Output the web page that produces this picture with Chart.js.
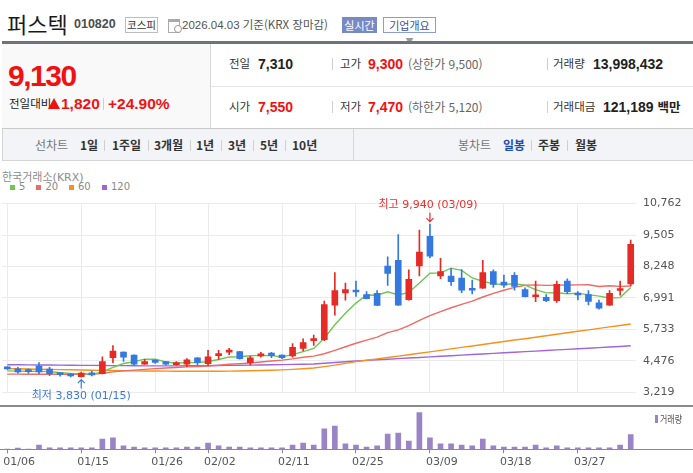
<!DOCTYPE html>
<html lang="ko">
<head>
<meta charset="utf-8">
<title>퍼스텍 010820</title>
<script src="https://cdn.jsdelivr.net/npm/chart.js@4.4.1/dist/chart.umd.min.js"></script>
<style>
  html, body { margin: 0; padding: 0; }
  body { width: 693px; height: 473px; position: relative; overflow: hidden; background: #fff;
         font-family: "Liberation Sans", "Noto Sans CJK KR", sans-serif; color: #333; }
  .t { position: absolute; white-space: nowrap; line-height: 1; }
  .kr { font-family: "Noto Sans CJK KR", sans-serif; }
  .b { font-weight: bold; }
  .red { color: #f21111; }
  .box { position: absolute; }
  .sep { position: absolute; width: 1px; background: #cfcfcf; }
  canvas { position: absolute; left: 0; }
</style>
</head>
<body>
<!-- title row -->
<div class="t kr" style="left:7px;top:11.5px;font-size:22px;color:#1a1a1a">퍼스텍</div>
<div class="t b" style="left:74px;top:18px;font-size:12.5px;color:#4d4d4d">010820</div>
<div class="box kr" style="left:125px;top:17px;width:31px;height:14px;border:1px solid #bdbdbd;font-size:10.5px;line-height:14px;text-align:center;color:#333">코스피</div>
<div class="box" style="left:168px;top:19px;width:10px;height:10px;border:1px solid #aaa;border-top:3px solid #aaa"></div>
<div class="box" style="left:174px;top:25px;width:6px;height:6px;border:1px solid #999;border-radius:50%;background:#fff"></div>
<div class="t" style="left:182px;top:18.7px;font-size:11.5px;color:#555">2026.04.03 <span class="kr">기준(KRX 장마감)</span></div>
<div class="box kr" style="left:342px;top:17px;width:35px;height:16px;background:#7889c6;color:#fff;font-size:11px;line-height:16px;text-align:center">실시간</div>
<div class="box kr" style="left:383px;top:17px;width:51px;height:14px;border:1px solid #8c9bd3;color:#3d4f9a;font-size:11px;line-height:14px;text-align:center">기업개요 <span style="color:#999;font-size:8px">▼</span></div>
<div class="box" style="left:2px;top:41px;width:691px;height:3px;background:#6f727a"></div>

<!-- price summary -->
<div class="box" style="left:2px;top:44px;width:208px;height:84px;background:#f9f9f9;border-right:1px solid #d6d6d6"></div>
<div class="t b red" style="left:8px;top:60.5px;font-size:30px;letter-spacing:-1.5px">9,130</div>
<div class="t kr" style="left:9px;top:97.7px;font-size:11.5px;color:#222">전일대비</div>
<div class="box" style="left:48px;top:98px;width:0;height:0;border-left:6px solid transparent;border-right:6px solid transparent;border-bottom:11px solid #f21111"></div>
<div class="t b red" style="left:61px;top:96px;font-size:15.5px">1,820</div>
<div class="sep" style="left:103px;top:98px;height:12px"></div>
<div class="t b red" style="left:108px;top:96px;font-size:15.5px">+24.90%</div>

<div class="t kr" style="left:229px;top:58.2px;font-size:11.5px">전일</div>
<div class="t b" style="left:258px;top:57px;font-size:14px;color:#222">7,310</div>
<div class="sep" style="left:332px;top:58px;height:12px"></div>
<div class="t kr" style="left:340px;top:58.2px;font-size:11.5px">고가</div>
<div class="t b red" style="left:368px;top:57px;font-size:14px">9,300</div>
<div class="t kr" style="left:408px;top:58px;font-size:12px;color:#666">(상한가 9,500)</div>
<div class="sep" style="left:547px;top:58px;height:12px"></div>
<div class="t kr" style="left:553px;top:58.2px;font-size:11.5px">거래량</div>
<div class="t b" style="left:593px;top:57px;font-size:14px;color:#222">13,998,432</div>

<div class="box" style="left:211px;top:86px;width:482px;height:1px;background:#e6e6e6"></div>

<div class="t kr" style="left:229px;top:101.2px;font-size:11.5px">시가</div>
<div class="t b red" style="left:258px;top:100px;font-size:14px">7,550</div>
<div class="sep" style="left:332px;top:101px;height:12px"></div>
<div class="t kr" style="left:340px;top:101.2px;font-size:11.5px">저가</div>
<div class="t b red" style="left:368px;top:100px;font-size:14px">7,470</div>
<div class="t kr" style="left:408px;top:101px;font-size:12px;color:#666">(하한가 5,120)</div>
<div class="sep" style="left:547px;top:101px;height:12px"></div>
<div class="t kr" style="left:553px;top:101.2px;font-size:11.5px">거래대금</div>
<div class="t b" style="left:603px;top:100px;font-size:14px;color:#222">121,189 <span class="kr" style="font-size:12.5px">백만</span></div>

<div class="box" style="left:2px;top:128px;width:691px;height:1px;background:#c9c9c9"></div>

<!-- period nav -->
<div class="box" style="left:2px;top:129px;width:690px;height:31px;background:#f3f4f7;border-bottom:1px solid #d4d4d4;border-left:1px solid #d4d4d4"></div>
<div class="box" style="left:353px;top:129px;width:1px;height:31px;background:#d8d8d8"></div>
<div class="t kr" style="left:35px;top:139px;font-size:12px;color:#777">선차트</div>
<div class="t kr b" style="left:80px;top:139px;font-size:12px">1일</div>
<div class="sep" style="left:104px;top:140px;height:11px"></div>
<div class="t kr b" style="left:112px;top:139px;font-size:12px">1주일</div>
<div class="sep" style="left:148px;top:140px;height:11px"></div>
<div class="t kr b" style="left:154px;top:139px;font-size:12px">3개월</div>
<div class="sep" style="left:190px;top:140px;height:11px"></div>
<div class="t kr b" style="left:196px;top:139px;font-size:12px">1년</div>
<div class="sep" style="left:221px;top:140px;height:11px"></div>
<div class="t kr b" style="left:228px;top:139px;font-size:12px">3년</div>
<div class="sep" style="left:253px;top:140px;height:11px"></div>
<div class="t kr b" style="left:260px;top:139px;font-size:12px">5년</div>
<div class="sep" style="left:285px;top:140px;height:11px"></div>
<div class="t kr b" style="left:292px;top:139px;font-size:12px">10년</div>
<div class="t kr" style="left:458px;top:139px;font-size:12px;color:#777">봉차트</div>
<div class="t kr b" style="left:503px;top:139px;font-size:12px;color:#1d4ea8">일봉</div>
<div class="sep" style="left:531px;top:140px;height:11px"></div>
<div class="t kr b" style="left:538px;top:139px;font-size:12px">주봉</div>
<div class="sep" style="left:567px;top:140px;height:11px"></div>
<div class="t kr b" style="left:575px;top:139px;font-size:12px">월봉</div>

<!-- chart header -->
<div class="t" style="left:2px;top:171.5px;font-size:11px;color:#8c8c8c;font-family:'DejaVu Sans','Noto Sans CJK KR'">한국거래소(KRX)</div>
<div id="legend"></div>

<canvas id="price" width="693" height="216" style="top:190px"></canvas>
<canvas id="volume" width="693" height="67" style="top:406px"></canvas>
<div class="box" style="left:0;top:405px;width:693px;height:2px;background:#8a8a8a"></div>
<div class="box" style="left:0;top:448.7px;width:693px;height:1.5px;background:#8a8a8a"></div>
<div class="box" style="left:655px;top:414.5px;width:3px;height:8px;background:#9a84c6"></div>
<div class="t kr" style="left:660px;top:414px;font-size:10px;color:#555;transform:scaleX(0.8);transform-origin:left">거래량</div>

<script>
const dates = ['01/06','01/07','01/08','01/09','01/12','01/13','01/14','01/15','01/16','01/19',
  '01/20','01/21','01/22','01/23','01/26','01/27','01/28','01/29','01/30','02/02',
  '02/03','02/04','02/05','02/06','02/09','02/10','02/11','02/12','02/13','02/19',
  '02/20','02/23','02/24','02/25','02/26','02/27','03/03','03/04','03/05','03/06',
  '03/09','03/10','03/11','03/12','03/13','03/16','03/17','03/18','03/19','03/20',
  '03/23','03/24','03/25','03/26','03/27','03/30','03/31','04/01','04/02','04/03'];
const dateTicks = ['01/06','01/15','01/26','02/02','02/11','02/25','03/09','03/18','03/27'];
const priceTicks = [3219, 4476, 5733, 6991, 8248, 9505, 10762];

const opens = [4230,4160,4110,4270,4150,3990,3930,3850,3990,3970,
  4610,4830,4710,4350,4510,4450,4330,4350,4600,4370,
  4690,4830,4850,4410,4680,4790,4710,4680,4980,5290,
  5330,6700,7190,7280,7130,7180,8270,8500,6920,8270,
  9450,7870,7870,7790,7360,7380,8050,7630,7900,7330,
  7040,7020,6880,7670,7180,7130,6800,6700,7290,7550];
const highs = [4240,4220,4160,4410,4220,4000,3970,4030,4070,4640,
  5090,4840,4720,4540,4520,4460,4450,4570,4610,4900,
  4900,4980,4860,4660,4820,4820,4720,5170,5360,5510,
  6870,8010,7590,7670,7250,7290,8640,9520,8120,9700,
  9940,8580,8170,8130,7710,8500,8120,7910,8010,7400,
  7670,7130,7670,7760,7250,7290,6910,7290,7670,9300];
const lows = [4140,3990,3990,3970,3890,3870,3840,3830,3880,3960,
  4410,4460,4310,4340,4380,4320,4300,4250,4310,4290,
  4540,4730,4550,4310,4630,4610,4570,4630,4880,5100,
  5290,6300,6900,7050,6950,6690,7490,6690,6900,7870,
  8600,7760,7490,7200,7150,7370,7410,7410,7300,7030,
  6840,6840,6810,7160,6910,6710,6540,6690,7100,7470];
const closes = [4160,4040,4050,4040,3970,3930,3880,3990,3920,4450,
  4870,4630,4350,4450,4420,4350,4350,4520,4410,4640,
  4750,4860,4570,4600,4720,4690,4610,5020,5210,5350,
  6730,7290,7330,7230,6960,6690,7970,6700,7740,8830,
  8660,8050,7640,7300,7300,8010,7530,7500,7450,7040,
  7100,6880,7540,7240,7110,6850,6580,7180,7310,9130];
const volumes = [300000,1270000,300000,4100000,1300000,1300000,1300000,1300000,1300000,9800000,
  10800000,3200000,2200000,1300000,1300000,1300000,1300000,2200000,2200000,6000000,
  3200000,2200000,2200000,1300000,1300000,1300000,1300000,4100000,6000000,4100000,
  19400000,22200000,5100000,4100000,2200000,3200000,14600000,15500000,7900000,34900000,
  10800000,5100000,5100000,4100000,3200000,9800000,3200000,2200000,2200000,2200000,
  4100000,1300000,3200000,1300000,1300000,1300000,1300000,1300000,4100000,13998432];

const ma5 = [4080,4070,4065,4060,4052,4006,3974,3962,3938,4034,
  4222,4372,4444,4550,4544,4440,4384,4418,4410,4454,
  4534,4636,4646,4684,4700,4688,4638,4728,4850,4976,
  5384,5920,6382,6786,7108,7100,7236,7110,7212,7586,
  7980,7996,8184,8096,7790,7660,7556,7528,7558,7506,
  7324,7194,7202,7160,7174,7124,7064,6992,7006,7410];
const ma20 = [3950,3950,3945,3945,3945,3945,3940,3945,3945,3985,
  4040,4080,4110,4140,4170,4195,4215,4240,4255,4271,
  4301,4342,4368,4396,4433,4471,4508,4559,4624,4669,
  4762,4895,5044,5183,5310,5427,5608,5717,5883,6093,
  6288,6448,6601,6736,6865,7031,7177,7301,7413,7498,
  7516,7496,7506,7507,7514,7522,7453,7477,7455,7470];
const ma60 = [4170,4162,4154,4146,4138,4130,4122,4114,4106,4098,
  4092,4086,4080,4076,4072,4068,4065,4063,4062,4062,
  4064,4068,4075,4083,4093,4105,4120,4140,4165,4195,
  4250,4310,4380,4450,4505,4560,4615,4670,4725,4785,
  4840,4900,4960,5020,5075,5135,5190,5250,5310,5365,
  5425,5485,5540,5600,5660,5715,5775,5835,5890,5950];
const ma120 = [4325,4322,4318,4315,4312,4308,4305,4300,4297,4293,
  4290,4287,4283,4280,4278,4278,4280,4282,4285,4290,
  4295,4300,4305,4310,4315,4322,4330,4338,4345,4355,
  4385,4415,4445,4475,4500,4522,4545,4570,4592,4615,
  4640,4663,4686,4709,4732,4755,4778,4801,4824,4847,
  4870,4893,4916,4939,4962,4985,5008,5031,5055,5080];

const maLines = [
  { label: '5', data: ma5, color: '#6fc653' },
  { label: '20', data: ma20, color: '#f06a64' },
  { label: '60', data: ma60, color: '#f6911d' },
  { label: '120', data: ma120, color: '#a265d6' }
];
const volumeMax = 41200000;

const UP = '#e52b25';
const DOWN = '#3479e0';
const GRID = '#ebebeb';

Chart.defaults.font.family = '"DejaVu Sans", "Noto Sans CJK KR", sans-serif';
Chart.defaults.animation = false;

// legend row above the chart
const legendPos = [9.5, 36, 68.5, 101.5];
const legend = document.getElementById('legend');
maLines.forEach((m, i) => {
  const sq = document.createElement('div');
  sq.className = 'box';
  sq.style.cssText = `left:${legendPos[i]}px;top:184.5px;width:5px;height:5px;background:${m.color}`;
  legend.appendChild(sq);
  const tx = document.createElement('div');
  tx.className = 't';
  tx.style.cssText = `left:${legendPos[i] + 9.5}px;top:182px;font-size:10px;color:#8a8a8a;font-family:'DejaVu Sans'`;
  tx.textContent = m.label;
  legend.appendChild(tx);
});

const candleColors = opens.map((o, i) => closes[i] >= o ? UP : DOWN);
const bodies = opens.map((o, i) => [o, closes[i]]);
const wicks = lows.map((l, i) => [l, highs[i]]);
const isTick = i => dateTicks.includes(dates[i]);

// 최고 / 최저 marks
const fmt = v => v.toLocaleString('en-US');
const extremeMarks = {
  id: 'extremeMarks',
  afterDatasetsDraw(chart) {
    const { ctx, scales: { x, y } } = chart;
    const hi = Math.max(...highs), hiIdx = highs.indexOf(hi);
    const lo = Math.min(...lows), loIdx = lows.indexOf(lo);
    ctx.save();
    ctx.font = '11px "DejaVu Sans", "Noto Sans CJK KR"';
    ctx.textAlign = 'center';
    ctx.textBaseline = 'middle';
    ctx.lineWidth = 1.2;

    let px = x.getPixelForValue(hiIdx), tip = y.getPixelForValue(hi) - 2.5;
    ctx.strokeStyle = ctx.fillStyle = '#e8312f';
    ctx.beginPath();
    ctx.moveTo(px, tip - 9); ctx.lineTo(px, tip);
    ctx.moveTo(px - 3.5, tip - 3.5); ctx.lineTo(px, tip); ctx.lineTo(px + 3.5, tip - 3.5);
    ctx.stroke();
    ctx.fillText(`최고 ${fmt(hi)} (${dates[hiIdx]})`, px - 2, tip - 16.5);

    px = x.getPixelForValue(loIdx); tip = y.getPixelForValue(lo) + 2.5;
    ctx.strokeStyle = ctx.fillStyle = '#3b7bd8';
    ctx.beginPath();
    ctx.moveTo(px, tip + 9); ctx.lineTo(px, tip);
    ctx.moveTo(px - 3.5, tip + 3.5); ctx.lineTo(px, tip); ctx.lineTo(px + 3.5, tip + 3.5);
    ctx.stroke();
    ctx.fillText(`최저 ${fmt(lo)} (${dates[loIdx]})`, px, tip + 17);
    ctx.restore();
  }
};

new Chart(document.getElementById('price'), {
  type: 'bar',
  data: {
    labels: dates,
    datasets: [
      { type: 'bar', data: bodies, backgroundColor: candleColors, barThickness: 6,
        minBarLength: 2, grouped: false, order: 0 },
      { type: 'bar', data: wicks, backgroundColor: candleColors, barThickness: 1,
        grouped: false, order: 1 },
      ...maLines.map((m, i) => ({
        type: 'line', data: m.data, borderColor: m.color, borderWidth: 1.4,
        pointRadius: 0, tension: 0, fill: false, order: 2 + i
      }))
    ]
  },
  options: {
    responsive: false,
    layout: { padding: { left: 2, right: 0, top: 7.3, bottom: 9.3 } },
    plugins: { legend: { display: false }, tooltip: { enabled: false } },
    scales: {
      x: {
        offset: true,
        grid: { offset: false, drawTicks: false, color: c => isTick(c.index) ? GRID : 'transparent' },
        border: { display: false },
        ticks: { display: false, autoSkip: false },
        afterFit: s => { s.height = 0; }
      },
      y: {
        position: 'right',
        min: priceTicks[0],
        max: priceTicks[priceTicks.length - 1],
        afterBuildTicks: s => { s.ticks = priceTicks.map(v => ({ value: v })); },
        grid: { color: GRID, drawTicks: false },
        border: { display: false },
        ticks: { padding: 7, color: '#555', font: { size: 11 }, callback: v => fmt(v) },
        afterFit: s => { s.width = 57; }
      }
    }
  },
  plugins: [extremeMarks]
});

new Chart(document.getElementById('volume'), {
  type: 'bar',
  data: {
    labels: dates,
    datasets: [{ data: volumes, backgroundColor: '#9a84c6', barThickness: 5 }]
  },
  options: {
    responsive: false,
    layout: { padding: { left: 2, right: 57, top: 0, bottom: 0 } },
    plugins: { legend: { display: false }, tooltip: { enabled: false } },
    scales: {
      x: {
        offset: true,
        grid: { offset: false, drawOnChartArea: false, tickLength: 4,
                color: c => isTick(c.index) ? '#888' : 'transparent' },
        border: { display: false },
        ticks: { autoSkip: false, maxRotation: 0, align: 'start', labelOffset: -4, padding: 2,
                 color: '#555', font: { size: 11 },
                 callback: (v, i) => isTick(i) ? dates[i] : '' },
        afterFit: s => { s.height = 23.7; }
      },
      y: { display: false, min: 0, max: volumeMax }
    }
  }
});
</script>
</body>
</html>
